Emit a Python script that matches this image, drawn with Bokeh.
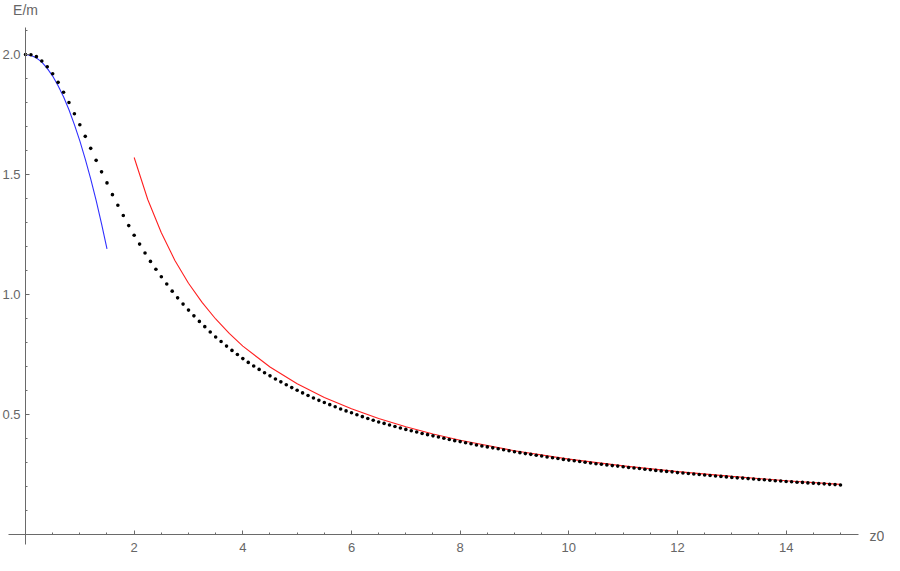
from bokeh.plotting import figure
from bokeh.models import Range1d, FixedTicker, Label, LinearAxis
from bokeh.embed import file_html
from bokeh.resources import INLINE

# ---- data ----
z_dots = [0.0, 0.1, 0.2, 0.3, 0.4, 0.5, 0.6, 0.7, 0.8, 0.9,
          1.0, 1.1, 1.2, 1.3, 1.4, 1.5, 1.6, 1.7, 1.8, 1.9,
          2.0, 2.1, 2.2, 2.3, 2.4, 2.5, 2.6, 2.7, 2.8, 2.9,
          3.0, 3.1, 3.2, 3.3, 3.4, 3.5, 3.6, 3.7, 3.8, 3.9,
          4.0, 4.1, 4.2, 4.3, 4.4, 4.5, 4.6, 4.7, 4.8, 4.9,
          5.0, 5.1, 5.2, 5.3, 5.4, 5.5, 5.6, 5.7, 5.8, 5.9,
          6.0, 6.1, 6.2, 6.3, 6.4, 6.5, 6.6, 6.7, 6.8, 6.9,
          7.0, 7.1, 7.2, 7.3, 7.4, 7.5, 7.6, 7.7, 7.8, 7.9,
          8.0, 8.1, 8.2, 8.3, 8.4, 8.5, 8.6, 8.7, 8.8, 8.9,
          9.0, 9.1, 9.2, 9.3, 9.4, 9.5, 9.6, 9.7, 9.8, 9.9,
          10.0, 10.1, 10.2, 10.3, 10.4, 10.5, 10.6, 10.7, 10.8, 10.9,
          11.0, 11.1, 11.2, 11.3, 11.4, 11.5, 11.6, 11.7, 11.8, 11.9,
          12.0, 12.1, 12.2, 12.3, 12.4, 12.5, 12.6, 12.7, 12.8, 12.9,
          13.0, 13.1, 13.2, 13.3, 13.4, 13.5, 13.6, 13.7, 13.8, 13.9,
          14.0, 14.1, 14.2, 14.3, 14.4, 14.5, 14.6, 14.7, 14.8, 14.9,
          15.0]
e_dots = [2.000, 1.999, 1.991, 1.973, 1.949, 1.920, 1.884, 1.843, 1.800, 1.753,
          1.707, 1.659, 1.609, 1.559, 1.511, 1.465, 1.416, 1.372, 1.329, 1.287,
          1.247, 1.210, 1.173, 1.138, 1.105, 1.074, 1.044, 1.014, 0.986, 0.960,
          0.935, 0.911, 0.888, 0.866, 0.844, 0.823, 0.804, 0.785, 0.767, 0.750,
          0.733, 0.717, 0.702, 0.688, 0.674, 0.661, 0.648, 0.636, 0.624, 0.612,
          0.601, 0.590, 0.579, 0.569, 0.559, 0.550, 0.541, 0.532, 0.523, 0.515,
          0.507, 0.499, 0.491, 0.483, 0.476, 0.469, 0.463, 0.456, 0.450, 0.444,
          0.438, 0.432, 0.427, 0.421, 0.416, 0.411, 0.406, 0.401, 0.396, 0.391,
          0.387, 0.382, 0.378, 0.373, 0.369, 0.365, 0.361, 0.357, 0.353, 0.349,
          0.345, 0.341, 0.337, 0.334, 0.330, 0.327, 0.323, 0.320, 0.317, 0.313,
          0.310, 0.307, 0.304, 0.301, 0.298, 0.295, 0.293, 0.290, 0.287, 0.285,
          0.282, 0.279, 0.277, 0.275, 0.272, 0.270, 0.267, 0.265, 0.263, 0.261,
          0.258, 0.256, 0.254, 0.252, 0.250, 0.248, 0.246, 0.244, 0.242, 0.240,
          0.238, 0.236, 0.235, 0.233, 0.231, 0.229, 0.228, 0.226, 0.224, 0.223,
          0.221, 0.220, 0.218, 0.217, 0.215, 0.214, 0.212, 0.211, 0.209, 0.208,
          0.206]

z_blue = [0.0, 0.1, 0.2, 0.3, 0.4, 0.5, 0.6, 0.7, 0.8, 0.9, 1.0, 1.1, 1.2, 1.3, 1.4, 1.5]
e_blue = [2.000, 1.996, 1.986, 1.968, 1.942, 1.910, 1.870, 1.824, 1.770, 1.708,
          1.640, 1.564, 1.482, 1.392, 1.294, 1.190]

z_red = [2.0, 2.25, 2.5, 2.75, 3.0, 3.25, 3.5, 3.75, 4.0, 4.5, 5.0, 5.5, 6.0, 6.5,
         7.0, 7.5, 8.0, 9.0, 10.0, 11.0, 12.0, 13.0, 14.0, 15.0]
e_red = [1.571, 1.396, 1.257, 1.142, 1.047, 0.967, 0.898, 0.838, 0.785, 0.698,
         0.628, 0.571, 0.524, 0.483, 0.449, 0.419, 0.393, 0.349, 0.314, 0.286,
         0.262, 0.242, 0.224, 0.209]

x_major = [2, 4, 6, 8, 10, 12, 14]
x_minor = [0.5, 1, 1.5, 2, 2.5, 3, 3.5, 4, 4.5, 5, 5.5, 6, 6.5, 7, 7.5, 8, 8.5,
           9, 9.5, 10, 10.5, 11, 11.5, 12, 12.5, 13, 13.5, 14, 14.5, 15]
y_major = [0.5, 1.0, 1.5, 2.0]
y_labels = ["0.5", "1.0", "1.5", "2.0"]
y_minor = [0.1, 0.2, 0.3, 0.4, 0.5, 0.6, 0.7, 0.8, 0.9, 1.0, 1.1, 1.2, 1.3, 1.4,
           1.5, 1.6, 1.7, 1.8, 1.9, 2.0, 2.1]

FONT = "Liberation Sans"
AX = "#6a6a6a"
TXT = "#666666"

p = figure(width=884, height=555, output_backend="svg", toolbar_location=None,
           x_range=Range1d(-0.4601, 15.810), y_range=Range1d(-0.0875, 2.225),
           min_border=0, min_border_left=0, min_border_right=0, min_border_top=0,
           min_border_bottom=0, x_axis_location=None, y_axis_location=None)
p.outline_line_color = None
p.grid.visible = False
p.background_fill_color = "white"
p.border_fill_color = "white"

xaxis = LinearAxis(fixed_location=0, bounds=(-0.313, 15.33),
                   ticker=FixedTicker(ticks=x_major, minor_ticks=x_minor))
yaxis = LinearAxis(fixed_location=0, bounds=(-0.043, 2.112),
                   ticker=FixedTicker(ticks=y_major, minor_ticks=y_minor),
                   major_label_overrides={v: s for v, s in zip(y_major, y_labels)})
for ax in (xaxis, yaxis):
    ax.axis_line_color = AX
    ax.axis_line_width = 1
    ax.major_tick_line_color = AX
    ax.minor_tick_line_color = AX
    ax.major_tick_in = 4
    ax.major_tick_out = 0
    ax.minor_tick_in = 2
    ax.minor_tick_out = 0
    ax.major_label_text_font = FONT
    ax.major_label_text_font_size = "13px"
    ax.major_label_text_color = TXT
xaxis.major_label_standoff = 8
yaxis.major_label_standoff = 5
p.add_layout(xaxis, "below")
p.add_layout(yaxis, "left")

p.line(z_blue, e_blue, line_color="#3030ff", line_width=1.1)
p.line(z_red, e_red, line_color="#ff2020", line_width=1.1)
p.scatter(z_dots, e_dots, size=3.6, fill_color="black", line_color=None)

p.add_layout(Label(x=0, y=2.2167, text="E/m", text_align="center", text_baseline="top",
                   text_font=FONT, text_font_size="14px", text_color=TXT))
p.add_layout(Label(x=15.534, y=-0.008, text="z0", text_align="left", text_baseline="middle",
                   text_font=FONT, text_font_size="14px", text_color=TXT))

open("out.html", "w").write(file_html(p, INLINE))
